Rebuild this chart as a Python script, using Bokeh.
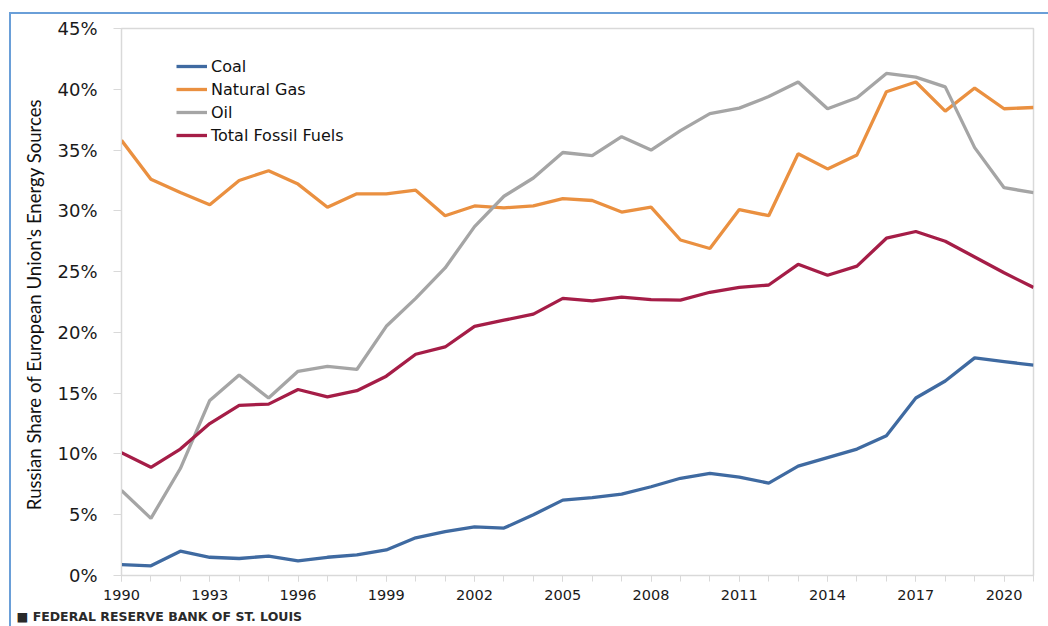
from bokeh.plotting import figure
from bokeh.models import (ColumnDataSource, FixedTicker, NumeralTickFormatter, Legend, LegendItem,
                          Title, InlineStyleSheet)
from bokeh.embed import file_html
from bokeh.resources import INLINE

years = list(range(1990, 2022))
coal = [0.9, 0.8, 2.0, 1.5, 1.4, 1.6, 1.2, 1.5, 1.7, 2.1, 3.1, 3.6, 4.0, 3.9, 5.0, 6.2,
        6.4, 6.7, 7.3, 8.0, 8.4, 8.1, 7.6, 9.0, 9.7, 10.4, 11.5, 14.6, 16.0, 17.9, 17.6, 17.3]
natural_gas = [35.8, 32.6, 31.5, 30.5, 32.5, 33.3, 32.2, 30.3, 31.4, 31.4, 31.7, 29.6, 30.4, 30.25,
               30.4, 31.0, 30.85, 29.9, 30.3, 27.6, 26.9, 30.1, 29.6, 34.7, 33.45, 34.6, 39.8,
               40.6, 38.2, 40.1, 38.4, 38.5]
oil = [7.0, 4.7, 8.8, 14.4, 16.5, 14.6, 16.8, 17.2, 16.95, 20.5, 22.8, 25.3, 28.7, 31.2, 32.7,
       34.8, 34.55, 36.1, 35.0, 36.6, 38.0, 38.45, 39.4, 40.6, 38.4, 39.3, 41.3, 41.0, 40.2,
       35.2, 31.9, 31.5]
total_fossil = [10.1, 8.9, 10.4, 12.5, 14.0, 14.1, 15.3, 14.7, 15.2, 16.4, 18.2, 18.8, 20.5, 21.0,
                21.5, 22.8, 22.6, 22.9, 22.7, 22.65, 23.3, 23.7, 23.9, 25.6, 24.7, 25.45, 27.75,
                28.3, 27.5, 26.2, 24.9, 23.7]

series_names = ["Coal", "Natural Gas", "Oil", "Total Fossil Fuels"]
series_values = [coal, natural_gas, oil, total_fossil]
series_colors = ["#3f6aa1", "#ea9040", "#a5a5a5", "#a51d47"]

y_title = "Russian Share of European Union's  Energy Sources"
source_text = "\u25a0  FEDERAL RESERVE BANK OF ST. LOUIS"

p = figure(frame_width=912, frame_height=547, x_range=(1990, 2021), y_range=(0, 0.45),
           output_backend="svg", toolbar_location=None,
           min_border_left=121, min_border_right=15, min_border_top=28, min_border_bottom=20)
p.background_fill_color = "white"
p.border_fill_color = "white"
p.outline_line_color = "#d9d9d9"
p.outline_line_width = 1.5
p.xgrid.visible = False
p.ygrid.visible = False

renderers = []
for name, vals, col in zip(series_names, series_values, series_colors):
    src = ColumnDataSource(dict(x=years, y=[v / 100 for v in vals]))
    r = p.line("x", "y", source=src, line_color=col, line_width=3.3)
    renderers.append((name, r))

legend = Legend(items=[LegendItem(label=n, renderers=[r]) for n, r in renderers],
                location=(55, 430), orientation="vertical")
legend.background_fill_alpha = 0
legend.border_line_alpha = 0
legend.padding = 0
legend.margin = 0
legend.spacing = 3
legend.glyph_width = 31
legend.glyph_height = 20
legend.label_height = 20
legend.label_standoff = 4
legend.label_text_font = "DejaVu Sans"
legend.label_text_font_size = "16px"
legend.label_text_color = "#111111"
p.add_layout(legend, "center")

# axes
xa = p.xaxis[0]
xa.ticker = FixedTicker(ticks=list(range(1990, 2022, 3)), minor_ticks=years)
xa.axis_line_color = "#d9d9d9"
xa.major_tick_line_color = "#d9d9d9"
xa.minor_tick_line_color = "#d9d9d9"
xa.major_tick_out = 6
xa.major_tick_in = 0
xa.minor_tick_out = 6
xa.minor_tick_in = 0
xa.major_label_standoff = 8
xa.major_label_text_font = "DejaVu Sans"
xa.major_label_text_font_size = "14.5px"
xa.major_label_text_color = "#1a1a1a"

ya = p.yaxis[0]
ya.ticker = FixedTicker(ticks=[i * 0.05 for i in range(10)])
ya.formatter = NumeralTickFormatter(format="0%")
ya.axis_line_color = "#d9d9d9"
ya.major_tick_line_color = "#d9d9d9"
ya.minor_tick_line_color = None
ya.major_tick_out = 8
ya.major_tick_in = 0
ya.major_label_standoff = 16
ya.major_label_text_font = "DejaVu Sans"
ya.major_label_text_font_size = "18px"
ya.major_label_text_color = "#1a1a1a"
ya.axis_label = y_title
ya.axis_label_text_font = "Lato"
ya.axis_label_text_font_style = "normal"
ya.axis_label_text_font_size = "18.6px"
ya.axis_label_text_color = "#111111"
ya.axis_label_standoff = 9

src_title = Title(text=source_text, align="left", offset=-105, standoff=9,
                  text_font="DejaVu Sans", text_font_style="bold", text_font_size="12.5px",
                  text_color="#2a2a2a")
p.add_layout(src_title, "below")

# outer blue frame of the chart image (page decoration)
p.stylesheets = [InlineStyleSheet(css="""
:host { position: relative; }
:host::after {
  content: '';
  position: absolute;
  left: 9px; top: 12px;
  width: 1039px; height: 614px;
  box-sizing: border-box;
  border-left: 2px solid #6a9fd8;
  border-top: 2px solid #6a9fd8;
  pointer-events: none;
  z-index: 10;
}
""")]

open("out.html", "w").write(file_html(p, INLINE))
